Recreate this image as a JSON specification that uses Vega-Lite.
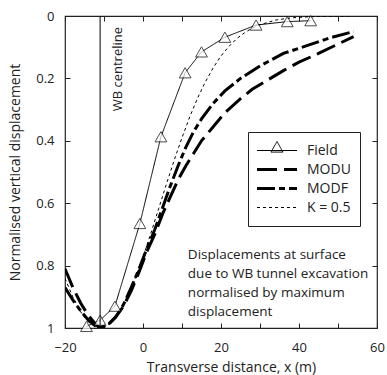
{
  "$schema": "https://vega.github.io/schema/vega-lite/v6.json",
  "width": 312,
  "height": 312,
  "autosize": {"type": "none"},
  "padding": {"left": 65, "top": 16, "right": 10, "bottom": 47},
  "background": "white",
  "config": {
    "view": {"stroke": "#222", "strokeWidth": 1.2},
    "font": "Open Sans",
    "axis": {"grid": false, "domain": false, "tickColor": "#222", "tickSize": -5, "labelColor": "#222", "titleColor": "#222", "labelFont": "Open Sans", "titleFont": "Open Sans", "labelFontSize": 13, "titleFontSize": 14, "titleFontWeight": "normal", "labelFlush": false}
  },
  "datasets": {
    "curves": [
      {"s": "Field", "x": -14.5, "y": 0.995},
      {"s": "Field", "x": -11, "y": 0.975},
      {"s": "Field", "x": -7.2, "y": 0.93},
      {"s": "Field", "x": -0.8, "y": 0.665},
      {"s": "Field", "x": 4.6, "y": 0.387},
      {"s": "Field", "x": 10.8, "y": 0.182},
      {"s": "Field", "x": 15, "y": 0.115},
      {"s": "Field", "x": 21, "y": 0.068},
      {"s": "Field", "x": 29, "y": 0.029},
      {"s": "Field", "x": 37, "y": 0.018},
      {"s": "Field", "x": 43, "y": 0.015},

      {"s": "MODU", "x": -20, "y": 0.81},
      {"s": "MODU", "x": -18, "y": 0.87},
      {"s": "MODU", "x": -16, "y": 0.92},
      {"s": "MODU", "x": -14, "y": 0.96},
      {"s": "MODU", "x": -12, "y": 0.99},
      {"s": "MODU", "x": -11, "y": 1.0},
      {"s": "MODU", "x": -9, "y": 0.99},
      {"s": "MODU", "x": -7, "y": 0.965},
      {"s": "MODU", "x": -5, "y": 0.93},
      {"s": "MODU", "x": -3, "y": 0.88},
      {"s": "MODU", "x": -1, "y": 0.82},
      {"s": "MODU", "x": 1, "y": 0.755},
      {"s": "MODU", "x": 3, "y": 0.7},
      {"s": "MODU", "x": 5, "y": 0.635},
      {"s": "MODU", "x": 7, "y": 0.58},
      {"s": "MODU", "x": 9, "y": 0.525},
      {"s": "MODU", "x": 11, "y": 0.48},
      {"s": "MODU", "x": 13, "y": 0.44},
      {"s": "MODU", "x": 15, "y": 0.4},
      {"s": "MODU", "x": 18, "y": 0.355},
      {"s": "MODU", "x": 21, "y": 0.31},
      {"s": "MODU", "x": 25, "y": 0.265},
      {"s": "MODU", "x": 28, "y": 0.235},
      {"s": "MODU", "x": 32, "y": 0.205},
      {"s": "MODU", "x": 36, "y": 0.175},
      {"s": "MODU", "x": 40, "y": 0.148},
      {"s": "MODU", "x": 45, "y": 0.12},
      {"s": "MODU", "x": 50, "y": 0.09},
      {"s": "MODU", "x": 54, "y": 0.066},

      {"s": "MODF", "x": -20, "y": 0.87},
      {"s": "MODF", "x": -18, "y": 0.91},
      {"s": "MODF", "x": -16, "y": 0.945},
      {"s": "MODF", "x": -14, "y": 0.975},
      {"s": "MODF", "x": -12, "y": 0.995},
      {"s": "MODF", "x": -11, "y": 1.0},
      {"s": "MODF", "x": -9, "y": 0.99},
      {"s": "MODF", "x": -7, "y": 0.965},
      {"s": "MODF", "x": -5, "y": 0.925},
      {"s": "MODF", "x": -3, "y": 0.87},
      {"s": "MODF", "x": -1, "y": 0.81},
      {"s": "MODF", "x": 1, "y": 0.745},
      {"s": "MODF", "x": 3, "y": 0.685},
      {"s": "MODF", "x": 5, "y": 0.615},
      {"s": "MODF", "x": 7, "y": 0.545},
      {"s": "MODF", "x": 9, "y": 0.48},
      {"s": "MODF", "x": 11, "y": 0.42},
      {"s": "MODF", "x": 13, "y": 0.37},
      {"s": "MODF", "x": 15, "y": 0.33},
      {"s": "MODF", "x": 18, "y": 0.28},
      {"s": "MODF", "x": 21, "y": 0.24},
      {"s": "MODF", "x": 25, "y": 0.2},
      {"s": "MODF", "x": 30, "y": 0.16},
      {"s": "MODF", "x": 36, "y": 0.12},
      {"s": "MODF", "x": 42, "y": 0.095},
      {"s": "MODF", "x": 48, "y": 0.07},
      {"s": "MODF", "x": 54, "y": 0.05},

      {"s": "K = 0.5", "x": -20, "y": 0.841},
      {"s": "K = 0.5", "x": -18, "y": 0.9},
      {"s": "K = 0.5", "x": -16, "y": 0.948},
      {"s": "K = 0.5", "x": -14, "y": 0.981},
      {"s": "K = 0.5", "x": -12, "y": 0.998},
      {"s": "K = 0.5", "x": -11, "y": 1.0},
      {"s": "K = 0.5", "x": -10, "y": 0.998},
      {"s": "K = 0.5", "x": -8, "y": 0.981},
      {"s": "K = 0.5", "x": -6, "y": 0.948},
      {"s": "K = 0.5", "x": -4, "y": 0.9},
      {"s": "K = 0.5", "x": -2, "y": 0.841},
      {"s": "K = 0.5", "x": 0, "y": 0.772},
      {"s": "K = 0.5", "x": 2, "y": 0.697},
      {"s": "K = 0.5", "x": 4, "y": 0.618},
      {"s": "K = 0.5", "x": 6, "y": 0.539},
      {"s": "K = 0.5", "x": 8, "y": 0.462},
      {"s": "K = 0.5", "x": 10, "y": 0.39},
      {"s": "K = 0.5", "x": 12, "y": 0.323},
      {"s": "K = 0.5", "x": 14, "y": 0.263},
      {"s": "K = 0.5", "x": 16, "y": 0.211},
      {"s": "K = 0.5", "x": 18, "y": 0.166},
      {"s": "K = 0.5", "x": 20, "y": 0.128},
      {"s": "K = 0.5", "x": 22, "y": 0.098},
      {"s": "K = 0.5", "x": 24, "y": 0.073},
      {"s": "K = 0.5", "x": 26, "y": 0.054},
      {"s": "K = 0.5", "x": 28, "y": 0.039},
      {"s": "K = 0.5", "x": 30, "y": 0.028},
      {"s": "K = 0.5", "x": 34, "y": 0.013},
      {"s": "K = 0.5", "x": 38, "y": 0.006},
      {"s": "K = 0.5", "x": 42, "y": 0.003},
      {"s": "K = 0.5", "x": 46, "y": 0.001},
      {"s": "K = 0.5", "x": 54, "y": 0.0}
    ]
  },
  "resolve": {"axis": {"x": "independent", "y": "independent"}},
  "layer": [
    {
      "data": {"name": "curves"},
      "mark": {"type": "line", "color": "black", "clip": true},
      "encoding": {
        "x": {"field": "x", "type": "quantitative", "scale": {"domain": [-20, 60], "nice": false, "zero": false},
              "axis": {"values": [-20, -10, 0, 10, 20, 30, 40, 50, 60], "labelExpr": "datum.value % 20 === 0 ? datum.label : ''", "labelPadding": 18, "title": "Transverse distance, x (m)", "titleX": 166, "titleY": 39, "titleBaseline": "middle"}},
        "y": {"field": "y", "type": "quantitative", "scale": {"domain": [0, 1], "reverse": true, "nice": false, "zero": false},
              "axis": {"values": [0, 0.2, 0.4, 0.6, 0.8, 1], "format": "~g", "labelPadding": 16, "title": "Normalised vertical displacement", "titleX": -50, "titleBaseline": "middle"}},
        "strokeDash": {"field": "s", "type": "nominal",
          "scale": {"domain": ["Field", "MODU", "MODF", "K = 0.5"], "range": [[1, 0], [20, 7], [18, 4, 6, 4], [3, 3]]},
          "legend": {"orient": "none", "legendX": 183, "legendY": 116, "title": null, "symbolType": "stroke", "symbolSize": 1600, "clipHeight": 19, "rowPadding": 0, "padding": 9, "labelOffset": 10, "labelFontSize": 14, "labelFont": "Open Sans", "labelColor": "#222", "strokeColor": "#222", "fillColor": "white", "symbolStrokeColor": "black",
            "encode": {
              "symbols": {"update": {
                "x": {"value": 20},
                "shape": {"signal": "datum.value === 'Field' ? 'M-1,0H1M0,-0.45L0.3,0.08L-0.3,0.08Z' : 'stroke'"},
                "strokeWidth": {"signal": "(datum.value === 'MODU' || datum.value === 'MODF') ? 3 : 1"},
                "fill": {"value": "transparent"}
              }},
              "labels": {"update": {"x": {"value": 50}}}
            }}},
        "strokeWidth": {"condition": {"test": "datum.s === 'MODU' || datum.s === 'MODF'", "value": 3}, "value": 1}
      }
    },
    {
      "data": {"name": "curves"},
      "transform": [{"filter": "datum.s === 'Field'"}],
      "mark": {"type": "point", "shape": "triangle-up", "size": 140, "filled": true, "fill": "white", "stroke": "black", "strokeWidth": 1},
      "encoding": {
        "x": {"field": "x", "type": "quantitative", "axis": {"orient": "top", "values": [-20, -10, 0, 10, 20, 30, 40, 50, 60], "labels": false, "title": null}},
        "y": {"field": "y", "type": "quantitative", "axis": {"orient": "right", "values": [0, 0.2, 0.4, 0.6, 0.8, 1], "labels": false, "title": null}}
      }
    },
    {
      "data": {"values": [{}]},
      "mark": {"type": "rule", "color": "black", "strokeWidth": 1},
      "encoding": {"x": {"datum": -11, "type": "quantitative", "axis": null}}
    },
    {
      "data": {"values": [{}]},
      "mark": {"type": "text", "angle": 270, "align": "right", "baseline": "middle", "fontSize": 13, "font": "Open Sans", "color": "#222"},
      "encoding": {"x": {"datum": -6.4, "type": "quantitative", "axis": null}, "y": {"datum": 0.035, "type": "quantitative", "axis": null}, "text": {"value": "WB centreline"}}
    },
    {
      "data": {"values": [{}]},
      "mark": {"type": "text", "align": "left", "baseline": "top", "fontSize": 13.5, "lineHeight": 19, "font": "Open Sans", "color": "#222"},
      "encoding": {"x": {"datum": 11.5, "type": "quantitative", "axis": null}, "y": {"datum": 0.745, "type": "quantitative", "axis": null},
        "text": {"value": ["Displacements at surface", "due to WB tunnel excavation", "normalised by maximum", "displacement"]}}
    }
  ]
}
